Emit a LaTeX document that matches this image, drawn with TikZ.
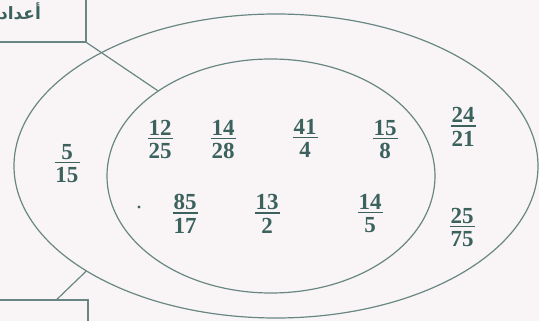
\documentclass[tikz,border=0pt]{standalone}
\usepackage{fontspec}
\setmainfont{Liberation Serif}
\newfontfamily\arabicfont[Script=Arabic]{DejaVu Sans}
\TeXXeTstate=1
\usetikzlibrary{shapes.geometric,calc}
\definecolor{ln}{RGB}{105,135,130}
\definecolor{tx}{RGB}{60,98,94}
\definecolor{bg}{RGB}{249,245,246}
\renewcommand\arraystretch{0}
\setlength\arrayrulewidth{1.3pt}
\newcommand\fr[2]{\begin{tabular}{@{\kern1pt}c@{\kern1pt}}\rule[-3pt]{0pt}{16.5pt}#1\\\hline\rule{0pt}{19.5pt}#2\end{tabular}}
\begin{document}
\begin{tikzpicture}[x=1pt,y=-1pt,line width=1.2pt,
  frac/.style={text=tx,font=\fontsize{23}{24}\selectfont\bfseries,inner sep=0pt},
  setline/.style={draw=ln,ellipse,inner sep=0pt},
  lbox/.style={draw=ln,rectangle,inner sep=0pt},
  conn/.style={draw=ln,line width=1.2pt}]
\fill[bg] (0,0) rectangle (539,321);
\useasboundingbox (0,0) rectangle (539,321);
% sets
\node[setline,minimum width=524pt,minimum height=304pt] (outer) at (276,166) {};
\node[setline,minimum width=328pt,minimum height=234pt] (inner) at (271,176) {};
% label boxes
\node[lbox,minimum width=132pt,minimum height=62pt,text=tx,font=\arabicfont\fontsize{17}{18}\selectfont\bfseries] (topbox) at (20,11) {\beginR أعداد\endR};
\node[lbox,minimum width=98pt,minimum height=40pt] (botbox) at (39,320) {};
% connectors
\draw[conn] (topbox.south east) -- (inner.143.6);
\coordinate (botstart) at ($(botbox.north west)!0.68!(botbox.north east)$);
\draw[conn] (botstart) -- (outer.209.5);
% inner set
\node[frac] (f1) at (160,139.5) {\fr{12}{25}};
\node[frac] (f2) at (223,139.5) {\fr{14}{28}};
\node[frac] (f3) at (305,138.5) {\fr{41}{4}};
\node[frac] (f4) at (385,139.5) {\fr{15}{8}};
\node[frac] (f5) at (185,213.5) {\fr{85}{17}};
\node[frac] (f6) at (267,213.5) {\fr{13}{2}};
\node[frac] (f7) at (370,213.5) {\fr{14}{5}};
\fill[tx] (139,207) circle (1.6pt);
% outer set only
\node[frac] (g1) at (67,163.5) {\fr{5}{15}};
\node[frac] (g2) at (463,126.5) {\fr{24}{21}};
\node[frac] (g3) at (462,227.5) {\fr{25}{75}};
\end{tikzpicture}
\end{document}
